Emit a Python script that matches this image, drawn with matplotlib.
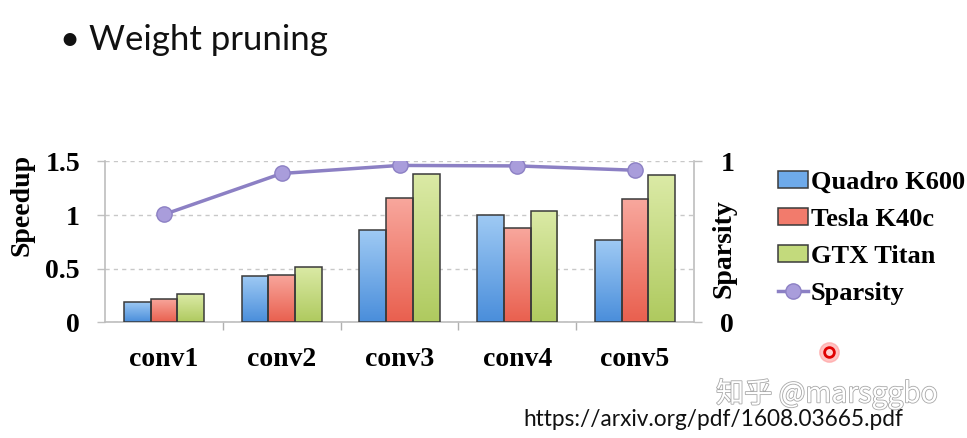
import matplotlib
matplotlib.use('Agg')
import matplotlib.pyplot as plt
import matplotlib.patheffects as pe
from matplotlib.lines import Line2D
from matplotlib.colors import LinearSegmentedColormap
import numpy as np

# Data
layers = ['conv1', 'conv2', 'conv3', 'conv4', 'conv5']
quadro_k600 = [0.19, 0.435, 0.86, 1.00, 0.765]
tesla_k40c = [0.215, 0.44, 1.16, 0.88, 1.145]
gtx_titan = [0.26, 0.515, 1.38, 1.035, 1.37]
sparsity = [0.67, 0.925, 0.975, 0.972, 0.945]

serif = 'Liberation Serif'
W, H = 967, 438
fig = plt.figure(figsize=(W / 100, H / 100), dpi=100)

# axes box in pixels: x 105..694, y 161.4..322.3
ax = fig.add_axes([105 / W, (H - 322.3) / H, 589 / W, 160.9 / H])
x = np.arange(len(layers))
bw = 0.227
ec = '#3a3a3a'
series = [
    (quadro_k600, -bw, 'Quadro K600', '#6eaaea', '#9fcaf4', '#4a8edb'),
    (tesla_k40c, 0, 'Tesla K40c', '#f27b6c', '#f8a79d', '#e9604f'),
    (gtx_titan, bw, 'GTX Titan', '#c3da7c', '#dbeaa6', '#afca5f'),
]
grad = np.linspace(0, 1, 100).reshape(-1, 1)
for vals, off, name, mid, top, bot in series:
    bars = ax.bar(x + off, vals, bw, color=mid, edgecolor=ec, linewidth=1.1, label=name, zorder=3)
    cmap = LinearSegmentedColormap.from_list(name, [bot, top])
    # light-to-dark shading inside each bar, like the slide
    for b in bars:
        x0, y0 = b.get_x(), b.get_y()
        im = ax.imshow(grad, cmap=cmap, origin='lower', aspect='auto', zorder=3.2,
                       extent=[x0, x0 + b.get_width(), y0, y0 + b.get_height()])
        im.set_clip_path(b)
        b.set_zorder(3.4)
        b.set_facecolor('none')

ax.set_xlim(-0.5, len(layers) - 0.5)
ax.set_ylim(0, 1.5)
ax.set_yticks([0, 0.5, 1, 1.5])
ax.set_yticklabels(['0', '0.5', '1', '1.5'])
ax.yaxis.grid(True, color='#c8c8c8', linestyle=(0, (3, 3)), linewidth=1.0, zorder=0)
ax.set_xticks(x)
ax.set_xticklabels(layers)
ax.set_xticks(np.arange(0.5, len(layers) - 1, 1.0), minor=True)
ax.tick_params(axis='x', which='major', length=0, pad=18)
ax.tick_params(axis='x', which='minor', length=6, color='#b0b0b0', width=1)
ax.tick_params(axis='y', length=6, color='#c0c0c0', width=1, pad=12)
for lbl in ax.get_xticklabels() + ax.get_yticklabels():
    lbl.set_fontfamily(serif)
    lbl.set_fontweight('bold')
    lbl.set_fontsize(20)
for side in ['left', 'right', 'bottom']:
    ax.spines[side].set_color('#bdbdbd')
    ax.spines[side].set_linewidth(1.2)
ax.spines['top'].set_visible(False)
ax.set_ylabel('Speedup', family=serif, fontweight='bold', fontsize=20)
ax.yaxis.set_label_coords(-0.12, 0.73)

ax2 = ax.twinx()
ax2.plot(x, sparsity, '-o', color='#8c80c4', linewidth=2.5, markersize=11,
         markerfacecolor='#a99ddb', markeredgecolor='#8c80c4', label='Sparsity', zorder=4)
ax2.set_ylim(0, 1)
ax2.set_yticks([0, 1])
ax2.set_yticklabels(['0', '1'])
ax2.tick_params(axis='y', length=6, color='#c0c0c0', width=1, pad=13)
for lbl in ax2.get_yticklabels():
    lbl.set_fontfamily(serif)
    lbl.set_fontweight('bold')
    lbl.set_fontsize(20)
for s in ax2.spines.values():
    s.set_visible(False)
ax2.set_ylabel('Sparsity', family=serif, fontweight='bold', fontsize=20)
ax2.yaxis.set_label_coords(1.029, 0.46)

handles = ax.get_legend_handles_labels()[0] + ax2.get_legend_handles_labels()[0]
labels = ['Quadro K600', 'Tesla K40c', 'GTX Titan', 'Sparsity']
leg = fig.legend(handles, labels, loc='upper left', bbox_to_anchor=(778 / W, 1 - 171 / H),
                 frameon=False, prop={'family': serif, 'weight': 'bold', 'size': 19},
                 handlelength=1.15, handleheight=0.6, handletextpad=0.1, labelspacing=0.53,
                 borderpad=0, borderaxespad=0)
for patch, (_, _, _, mid, _, _) in zip(leg.get_patches(), series):
    patch.set_facecolor(mid)

# slide title
fig.text(60 / W, 1 - 40 / H, '\u2022 Weight pruning', family='Lato', fontsize=25,
         va='center', ha='left', color='#111111')

# source url and watermark
fig.text(523 / W, 1 - 420 / H, 'https://arxiv.org/pdf/1608.03665.pdf', family='Lato',
         fontsize=16.3, va='center', ha='left', color='#111111')
fig.text(716 / W, 1 - 394 / H, '知乎 @marsggbo', family=['Noto Sans CJK SC', 'DejaVu Sans'],
         fontsize=20.3, va='center', ha='left', color='white',
         path_effects=[pe.withStroke(linewidth=1.2, foreground='#a8a8a8')])

# red pointer dot
fig.add_artist(Line2D([829 / W], [1 - 352 / H], marker='o', markersize=14,
                      color='#ff9a9a', alpha=0.6, transform=fig.transFigure))
fig.add_artist(Line2D([829 / W], [1 - 352 / H], marker='o', markersize=7,
                      markerfacecolor='#ffd0d0', markeredgecolor='#e00000', markeredgewidth=2,
                      transform=fig.transFigure))

fig.savefig('out.png', dpi=100)
